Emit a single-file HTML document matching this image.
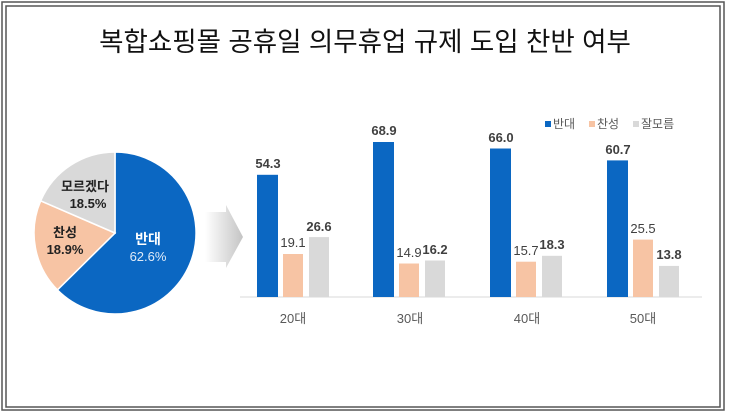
<!DOCTYPE html>
<html><head><meta charset="utf-8"><style>
body{margin:0;background:#fff}
svg{display:block}
text{font-family:"Liberation Sans","Noto Sans CJK KR",sans-serif}
</style></head><body>
<svg width="729" height="415" viewBox="0 0 729 415" xmlns="http://www.w3.org/2000/svg">
<defs><linearGradient id="ag" x1="0" x2="1" y1="0" y2="0"><stop offset="0" stop-color="#fff"/><stop offset="1" stop-color="#c4c4c4"/></linearGradient></defs>
<rect x="2" y="2" width="722" height="408" fill="none" stroke="#555" stroke-width="1.5"/>
<rect x="6" y="6" width="714" height="401" fill="none" stroke="#555" stroke-width="1.5"/>
<text x="365" y="51" font-size="26.5" text-anchor="middle" fill="#111" font-family="'Noto Sans CJK KR',sans-serif">복합쇼핑몰 공휴일 의무휴업 규제 도입 찬반 여부</text>
<path d="M115,233 L115,152 A81,81 0 1 1 57.4,289.9 Z" fill="#0b67c2" stroke="#fff" stroke-width="1.5"/>
<path d="M115,233 L57.4,289.9 A81,81 0 0 1 40.7,200.8 Z" fill="#f7c4a4" stroke="#fff" stroke-width="1.5"/>
<path d="M115,233 L40.7,200.8 A81,81 0 0 1 115,152 Z" fill="#d9d9d9" stroke="#fff" stroke-width="1.5"/>
<text x="85" y="191" font-size="13" font-weight="bold" text-anchor="middle" fill="#222">모르겠다</text>
<text x="88" y="208" font-size="13" font-weight="bold" text-anchor="middle" fill="#222">18.5%</text>
<text x="65" y="237" font-size="13" font-weight="bold" text-anchor="middle" fill="#222">찬성</text>
<text x="65" y="254" font-size="13" font-weight="bold" text-anchor="middle" fill="#222">18.9%</text>
<text x="148" y="244" font-size="14" font-weight="bold" text-anchor="middle" fill="#fff">반대</text>
<text x="148" y="261" font-size="13" text-anchor="middle" fill="#dfeaf7">62.6%</text>
<polygon points="205,212 226,212 226,205 243,237 226,268 226,262 205,262" fill="url(#ag)"/>
<line x1="240" y1="297" x2="702" y2="297" stroke="#d9d9d9" stroke-width="1"/>
<g>
<rect x="257" y="174.8" width="21" height="122.2" fill="#0b67c2"/>
<rect x="283" y="254" width="20" height="43" fill="#f7c4a4"/>
<rect x="309" y="237.1" width="20" height="59.9" fill="#d9d9d9"/>
<rect x="373" y="142" width="21" height="155" fill="#0b67c2"/>
<rect x="399" y="263.5" width="20" height="33.5" fill="#f7c4a4"/>
<rect x="425" y="260.5" width="20" height="36.5" fill="#d9d9d9"/>
<rect x="490" y="148.5" width="21" height="148.5" fill="#0b67c2"/>
<rect x="516" y="261.7" width="20" height="35.3" fill="#f7c4a4"/>
<rect x="542" y="255.8" width="20" height="41.2" fill="#d9d9d9"/>
<rect x="607" y="160.4" width="21" height="136.6" fill="#0b67c2"/>
<rect x="633" y="239.6" width="20" height="57.4" fill="#f7c4a4"/>
<rect x="659" y="265.9" width="20" height="31.1" fill="#d9d9d9"/>
</g>
<g font-size="13" text-anchor="middle" fill="#404040">
<text x="268" y="168" font-weight="bold">54.3</text>
<text x="293" y="247">19.1</text>
<text x="319" y="231" font-weight="bold">26.6</text>
<text x="384" y="135" font-weight="bold">68.9</text>
<text x="409" y="257">14.9</text>
<text x="435" y="254" font-weight="bold">16.2</text>
<text x="501" y="142" font-weight="bold">66.0</text>
<text x="526" y="255">15.7</text>
<text x="552" y="249" font-weight="bold">18.3</text>
<text x="618" y="154" font-weight="bold">60.7</text>
<text x="643" y="233">25.5</text>
<text x="669" y="259" font-weight="bold">13.8</text>
</g>
<g font-size="13" text-anchor="middle" fill="#595959">
<text x="293" y="323">20대</text>
<text x="410" y="323">30대</text>
<text x="527" y="323">40대</text>
<text x="643" y="323">50대</text>
</g>
<g font-size="12" fill="#595959">
<rect x="545" y="121" width="6" height="6" fill="#0b67c2"/><text x="553" y="128">반대</text>
<rect x="589" y="121" width="6" height="6" fill="#f7c4a4"/><text x="597" y="128">찬성</text>
<rect x="633" y="121" width="6" height="6" fill="#d9d9d9"/><text x="641" y="128">잘모름</text>
</g>
</svg>
</body></html>
